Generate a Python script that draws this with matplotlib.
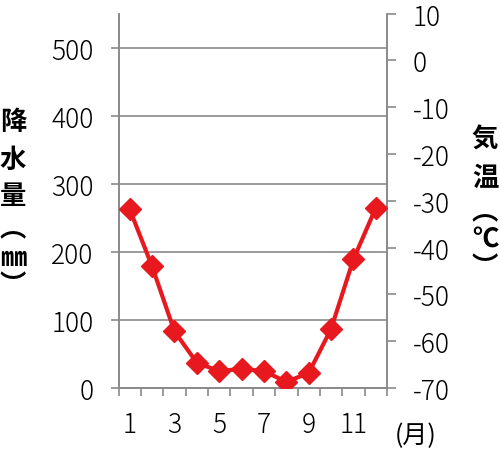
import matplotlib.pyplot as plt
import numpy as np

plt.rcParams['font.family'] = ['Noto Sans CJK JP', 'DejaVu Sans']
plt.rcParams['axes.unicode_minus'] = False

months = np.arange(1, 13)
month_labels = ['1', '', '3', '', '5', '', '7', '', '9', '', '11', '']
precip = [0.5, 0.3, 0.5, 0.5, 1.5, 0.8, 1.5, 0.3, 0.8, 0.8, 0.3, 0.3]
temp = [-31.8, -44.0, -57.9, -64.6, -66.4, -65.9, -66.4, -68.7, -66.8, -57.4, -42.5, -31.5]

grid_col = '#8a8a8a'
fs = 19

fig = plt.figure(figsize=(5, 4.56), dpi=100)
ax = fig.add_axes([0.237, 0.147, 0.537, 0.821])
ax2 = ax.twinx()

ax.bar(months, precip, width=0.45, color='#5b7fbf', zorder=2)
ax.set_xlim(0.5, 12.5)
ax.set_ylim(0, 550)
ax.set_yticks([0, 100, 200, 300, 400, 500])
ax.yaxis.grid(True, color=grid_col, lw=1.2)
ax.set_axisbelow(True)

ax2.plot(months, temp, color='#e8191e', lw=3, marker='D', markersize=11, zorder=3)
ax2.set_ylim(-70, 10)
ax2.set_yticks(np.arange(-70, 11, 10))

# month ticks: marks at boundaries, labels at centers
ax.set_xticks(np.arange(0.5, 13, 1))
ax.set_xticklabels([])
ax.set_xticks(months, minor=True)
ax.set_xticklabels(month_labels, minor=True)
ax.tick_params(axis='x', which='major', direction='out', length=6, width=1.2, color=grid_col)
ax.tick_params(axis='x', which='minor', length=0, pad=16, labelsize=fs)
ax.tick_params(axis='y', direction='out', length=6, width=1.2, color=grid_col, pad=12, labelsize=fs)
ax2.tick_params(axis='y', direction='out', length=6.5, width=1.2, color=grid_col, pad=12, labelsize=fs)
for lab in ax.get_xticklabels(minor=True) + ax.get_yticklabels() + ax2.get_yticklabels():
    lab.set_fontweight('light')

for a in (ax, ax2):
    for s in a.spines.values():
        s.set_color(grid_col)
        s.set_linewidth(1.2)
    a.spines['top'].set_visible(False)

# vertical axis titles, one character per line
left_chars = [('降', 123), ('水', 160), ('量', 197), ('︵', 230), ('㎜', 258), ('︶', 286)]
for ch, y in left_chars:
    fig.text(13 / 500, 1 - y / 456, ch, ha='center', va='center', fontsize=19, fontweight='bold')
right_chars = [('気', 140), ('温', 178), ('︵', 213), ('℃', 240), ('︶', 268)]
for ch, y in right_chars:
    fig.text(485 / 500, 1 - y / 456, ch, ha='center', va='center', fontsize=19, fontweight='bold')

fig.text(416 / 500, 1 - 436 / 456, '(月)', ha='center', va='center', fontsize=18)

fig.savefig('out.png', dpi=100)
